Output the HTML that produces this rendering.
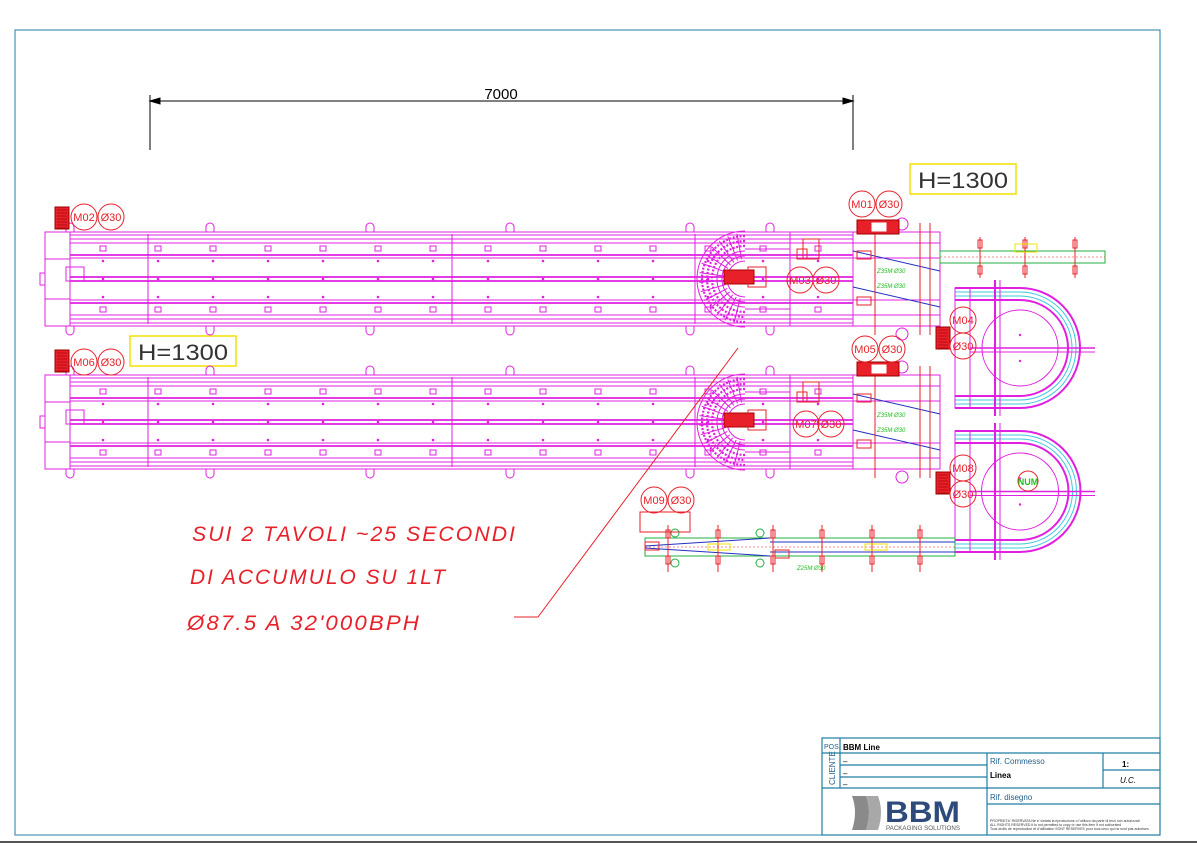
<!DOCTYPE html>
<html><head><meta charset="utf-8"><style>
html,body{margin:0;padding:0;background:#fff;width:1197px;height:846px;overflow:hidden}
svg{display:block}
text{font-family:"Liberation Sans",sans-serif}
</style></head><body>
<svg id="s" width="1197" height="846" viewBox="0 0 1197 846" xmlns="http://www.w3.org/2000/svg">
<rect x="15" y="30" width="1145" height="805" fill="none" stroke="#1f7fa3" stroke-width="1"/>
<line x1="0" y1="842" x2="1197" y2="842" stroke="#555" stroke-width="2"/>
<g stroke="#000" stroke-width="1">
<line x1="150" y1="101" x2="853" y2="101"/>
<line x1="150" y1="95" x2="150" y2="150"/>
<line x1="853" y1="95" x2="853" y2="150"/>
<polygon points="150,101 160,98 160,104" fill="#000"/>
<polygon points="853,101 843,98 843,104" fill="#000"/>
</g>
<text x="501" y="99" font-size="15" text-anchor="middle" fill="#000">7000</text>
<rect x="910" y="164" width="106" height="30" fill="none" stroke="#f2e000" stroke-width="1.5"/>
<text x="963" y="188" font-size="22" text-anchor="middle" fill="#333" textLength="90" lengthAdjust="spacingAndGlyphs">H=1300</text>
<rect x="130" y="336" width="106" height="30" fill="none" stroke="#f2e000" stroke-width="1.5"/>
<text x="183" y="360" font-size="22" text-anchor="middle" fill="#333" textLength="90" lengthAdjust="spacingAndGlyphs">H=1300</text>
<g id="tables" fill="none" stroke="#e020e0" stroke-width="1"></g>
<g id="right" fill="none" stroke-width="1"></g>
<g id="lbl"></g>
<g fill="#e8202a" font-size="21" font-style="italic" letter-spacing="2">
<text x="192" y="541" textLength="325" lengthAdjust="spacingAndGlyphs">SUI 2 TAVOLI ~25 SECONDI</text>
<text x="190" y="584" textLength="257" lengthAdjust="spacingAndGlyphs">DI ACCUMULO SU 1LT</text>
<text x="187" y="630" textLength="234" lengthAdjust="spacingAndGlyphs">Ø87.5 A 32'000BPH</text>
</g>
<polyline points="514,617 538,617 738,348" fill="none" stroke="#e8202a" stroke-width="1"/>
<g fill="none" stroke="#1f7fa3" stroke-width="1.2">
<rect x="822" y="738" width="338" height="97"/>
<line x1="822" y1="753" x2="1160" y2="753"/>
<line x1="822" y1="788" x2="1160" y2="788"/>
<line x1="840" y1="738" x2="840" y2="788"/>
<line x1="840" y1="765" x2="987" y2="765"/>
<line x1="840" y1="777" x2="987" y2="777"/>
<line x1="987" y1="753" x2="987" y2="835"/>
<line x1="1103" y1="753" x2="1103" y2="788"/>
<line x1="1103" y1="770" x2="1160" y2="770"/>
<line x1="987" y1="804" x2="1160" y2="804"/>
</g>
<g font-size="8" fill="#000">
<text x="824" y="749" font-size="7" fill="#1f5f8a">POS.</text>
<text x="843" y="750" font-weight="bold">BBM Line</text>
<text x="835" y="785" font-size="8" fill="#1f5f8a" transform="rotate(-90 835 785)">CLIENTE</text>
<text x="990" y="764" fill="#1f5f8a">Rif. Commesso</text>
<text x="990" y="778" font-weight="bold">Linea</text>
<text x="1122" y="767" font-weight="bold">1:</text>
<text x="1120" y="783" font-style="italic">U.C.</text>
<text x="990" y="800" fill="#1f5f8a">Rif. disegno</text>
<text x="990" y="822" font-size="3.5" fill="#333">PROPRIETA' RISERVATA Ne e' vietata la riproduzione o l'utilizzo da parte di terzi non autorizzati</text>
<text x="990" y="826" font-size="3.5" fill="#333">ALL RIGHTS RESERVED It is not permitted to copy or use this item if not authorised</text>
<text x="990" y="830" font-size="3.5" fill="#333">Tous droits de reproduction et d'utilisation SONT RESERVES pour tous ceux qui ne sont pas autorises</text>
<text x="843" y="764">–</text><text x="843" y="776">–</text><text x="843" y="787">–</text>
</g>
<path d="M852,796 L866,796 Q872,812 866,830 L852,830 Q858,812 852,796 Z" fill="#8a8a8a"/>
<path d="M866,796 L878,796 Q884,812 878,830 L866,830 Q872,812 866,796 Z" fill="#a8a8a8"/>
<text x="885" y="822" font-size="30" font-weight="bold" fill="#2d4a7a" textLength="75" lengthAdjust="spacingAndGlyphs">BBM</text>
<text x="886" y="830" font-size="6" fill="#555" textLength="74" lengthAdjust="spacingAndGlyphs">PACKAGING SOLUTIONS</text>
</svg>
<script>
var NS="http://www.w3.org/2000/svg";
function el(p,t,a){var e=document.createElementNS(NS,t);for(var k in a)e.setAttribute(k,a[k]);p.appendChild(e);return e;}
var T=document.getElementById('tables'),R=document.getElementById('right'),L=document.getElementById('lbl');
var M="#e020e0";
function line(p,x1,y1,x2,y2,c,w){return el(p,'line',{x1:x1,y1:y1,x2:x2,y2:y2,stroke:c||M,'stroke-width':w||1});}
function table(C){
  el(T,'rect',{x:45,y:C-47,width:25,height:94});
  el(T,'rect',{x:66,y:C-12,width:18,height:14});
  el(T,'rect',{x:40,y:C-6,width:5,height:12});
  var offs=[47,44,40,36,24,21,2,-2,-21,-24,-36,-40,-44,-47];
  offs.forEach(function(o){line(T,70,C+o,853,C+o,M,(Math.abs(o)==2||Math.abs(o)==24)?1.8:1);});
  line(T,45,C-20,70,C-20);line(T,45,C+20,70,C+20);
  [148,452,695].forEach(function(x){line(T,x,C-45,x,C+45);});
  for(var x=100;x<850;x+=55){
    el(T,'rect',{x:x,y:C-33,width:6,height:5});el(T,'rect',{x:x,y:C+28,width:6,height:5});
    el(T,'circle',{cx:x+3,cy:C-18,r:0.8,fill:M});el(T,'circle',{cx:x+3,cy:C+18,r:0.8,fill:M});el(T,'circle',{cx:x+3,cy:C,r:0.8,fill:M});
  }
  [70,210,370,510,690,770].forEach(function(x){
    el(T,'path',{d:"M"+(x-4)+","+(C-47)+" v-5 a4,4 0 0 1 8,0 v5"});
    el(T,'path',{d:"M"+(x-4)+","+(C+47)+" v5 a4,4 0 0 0 8,0 v-5"});
  });
  var cx=745;
  for(var r=18;r<=48;r+=5){el(T,'path',{d:"M"+cx+","+(C-r)+" A"+r+","+r+" 0 0 0 "+cx+","+(C+r),'stroke-width':r>28&&r<44?2.2:1,'stroke-dasharray':r>28&&r<44?"2 1.5":"none"});}
  for(var a=100;a<=260;a+=12){var rad=a*Math.PI/180;line(T,cx+20*Math.cos(rad),C-20*Math.sin(rad),cx+46*Math.cos(rad),C-46*Math.sin(rad));}
  line(T,745,C-30,790,C-30);line(T,745,C+30,790,C+30);
  el(T,'rect',{x:790,y:C-47,width:63,height:94});
  el(T,'rect',{x:724,y:C-9,width:30,height:14,fill:"#e8202a",stroke:"#a00"});
  el(T,'rect',{x:748,y:C-12,width:18,height:20,fill:"none",stroke:"#e8202a"});
  el(T,'rect',{x:803,y:C-40,width:16,height:20,fill:"none",stroke:"#e8202a"});
  el(T,'rect',{x:797,y:C-30,width:10,height:10,fill:"none",stroke:"#e8202a"});
  [-36,-21,21,36].forEach(function(o){line(T,853,C+o,940,C+o);});
  el(T,'rect',{x:853,y:C-47,width:87,height:94});
  line(T,853,C-28,940,C-8,"#2030c0");line(T,853,C+8,940,C+28,"#2030c0");
  el(T,'rect',{x:857,y:C-28,width:14,height:8,stroke:"#e8202a"});el(T,'rect',{x:857,y:C+18,width:14,height:8,stroke:"#e8202a"});
  [875,920,930].forEach(function(x){line(T,x,C-56,x,C+56,"#e8202a");});
  [902].forEach(function(x){el(T,'circle',{cx:x,cy:C-55,r:6});el(T,'circle',{cx:x,cy:C+55,r:6});});
}
table(279);table(422);
function motor(x,y,h){el(L,'rect',{x:x,y:y,width:14,height:h||22,fill:"#e8202a",stroke:"#900",'stroke-width':1});for(var i=3;i<(h||22);i+=3)line(L,x+2,y+i,x+12,y+i,"#900",0.6);}
motor(55,207);motor(55,350);motor(936,327);motor(936,472);
function hmotor(x,y){el(L,'rect',{x:x,y:y,width:42,height:14,fill:"#e8202a",stroke:"#900"});el(L,'rect',{x:x+14,y:y+2,width:16,height:10,fill:"#fff",stroke:"#e8202a"});}
hmotor(857,220);hmotor(857,362);
function tag(x,y,t){el(L,'circle',{cx:x,cy:y,r:13,fill:"none",stroke:"#e8202a"});var e=el(L,'text',{x:x,y:y+4,'font-size':11,'text-anchor':'middle',fill:"#e8202a"});e.textContent=t;}
tag(84,217,"M02");tag(111,217,"Ø30");tag(84,362,"M06");tag(111,362,"Ø30");
tag(862,204,"M01");tag(889,204,"Ø30");tag(865,349,"M05");tag(892,349,"Ø30");
tag(800,280,"M03");tag(826,280,"Ø30");tag(806,424,"M07");tag(831,424,"Ø30");
tag(963,320,"M04");tag(963,346,"Ø30");tag(963,468,"M08");tag(963,494,"Ø30");
tag(654,500,"M09");tag(681,500,"Ø30");
[[877,273],[877,288],[877,417],[877,432]].forEach(function(p){var e=el(L,'text',{x:p[0],y:p[1],'font-size':6,fill:"#20c020",'font-style':'italic'});e.textContent="Z35M  Ø30";});
var g=el(L,'text',{x:797,y:570,'font-size':6,fill:"#20c020",'font-style':'italic'});g.textContent="Z25M  Ø30";
el(R,'rect',{x:940,y:251,width:165,height:12,stroke:"#20b040"});
line(R,940,257,1105,257,"#e8202a",0.6).setAttribute('stroke-dasharray','2 2');
[980,1025,1075].forEach(function(x){line(R,x,237,x,278,"#e8202a");el(R,'rect',{x:x-2,y:240,width:4,height:8,stroke:"#e8202a"});el(R,'rect',{x:x-2,y:266,width:4,height:8,stroke:"#e8202a"});});
el(R,'rect',{x:1015,y:244,width:22,height:8,stroke:"#f0e000"});
function uturn(C,y1,y2){
  var cx=1020,cy=(y1+y2)/2,r=(y2-y1)/2;
  [0,4,8,12].forEach(function(d,i){el(R,'path',{d:"M955,"+(y1-d)+" L"+cx+","+(y1-d)+" A"+(r+d)+","+(r+d)+" 0 0 1 "+cx+","+(y2+d)+" L955,"+(y2+d),stroke:i==1||i==2?"#40c8e0":M,'stroke-width':i==0||i==3?2:1});});
  el(R,'circle',{cx:cx,cy:cy,r:r-10,stroke:M});
  line(R,970,cy,1095,cy,M,1.5);line(R,970,cy+4,1095,cy+4,M,1);
  line(R,995,y1-20,995,y2+20,M,2);line(R,1000,y1-20,1000,y2+20,M);
  el(R,'rect',{x:955,y:y1-12,width:15,height:(y2-y1)+24,stroke:M});
  el(R,'circle',{cx:cx,cy:cy-13,r:1.2,fill:M});el(R,'circle',{cx:cx,cy:cy+13,r:1.2,fill:M});
}
uturn(0,300,396);uturn(0,443,540);
el(L,'circle',{cx:1028,cy:481,r:10,fill:"none",stroke:"#e8202a"});var nt=el(L,'text',{x:1028,y:485,'font-size':9,'text-anchor':'middle',fill:"#20c020",'font-weight':'bold'});nt.textContent="NUM";
el(R,'rect',{x:645,y:538,width:310,height:18,stroke:"#20b040"});
line(R,645,547,955,547,"#e8202a",0.6).setAttribute('stroke-dasharray','2 2');
line(R,645,546,770,538,"#2030c0");line(R,645,548,770,556,"#2030c0");
line(R,770,542,955,542,"#2030c0");line(R,770,552,955,552,"#2030c0");
[668,718,773,822,872,920].forEach(function(x){line(R,x,525,x,572,"#e8202a");el(R,'rect',{x:x-2,y:530,width:4,height:8,stroke:"#e8202a"});el(R,'rect',{x:x-2,y:556,width:4,height:8,stroke:"#e8202a"});});
[[675,533],[675,563],[760,533],[760,563]].forEach(function(p){el(R,'circle',{cx:p[0],cy:p[1],r:4,stroke:"#20b040"});});
el(R,'rect',{x:640,y:512,width:50,height:20,stroke:"#e8202a"});
el(R,'rect',{x:645,y:542,width:14,height:8,stroke:"#e8202a"});el(R,'rect',{x:775,y:550,width:14,height:8,stroke:"#e8202a"});
el(R,'rect',{x:708,y:544,width:22,height:6,stroke:"#f0e000"});el(R,'rect',{x:865,y:544,width:22,height:6,stroke:"#f0e000"});
</script>
</body></html>
